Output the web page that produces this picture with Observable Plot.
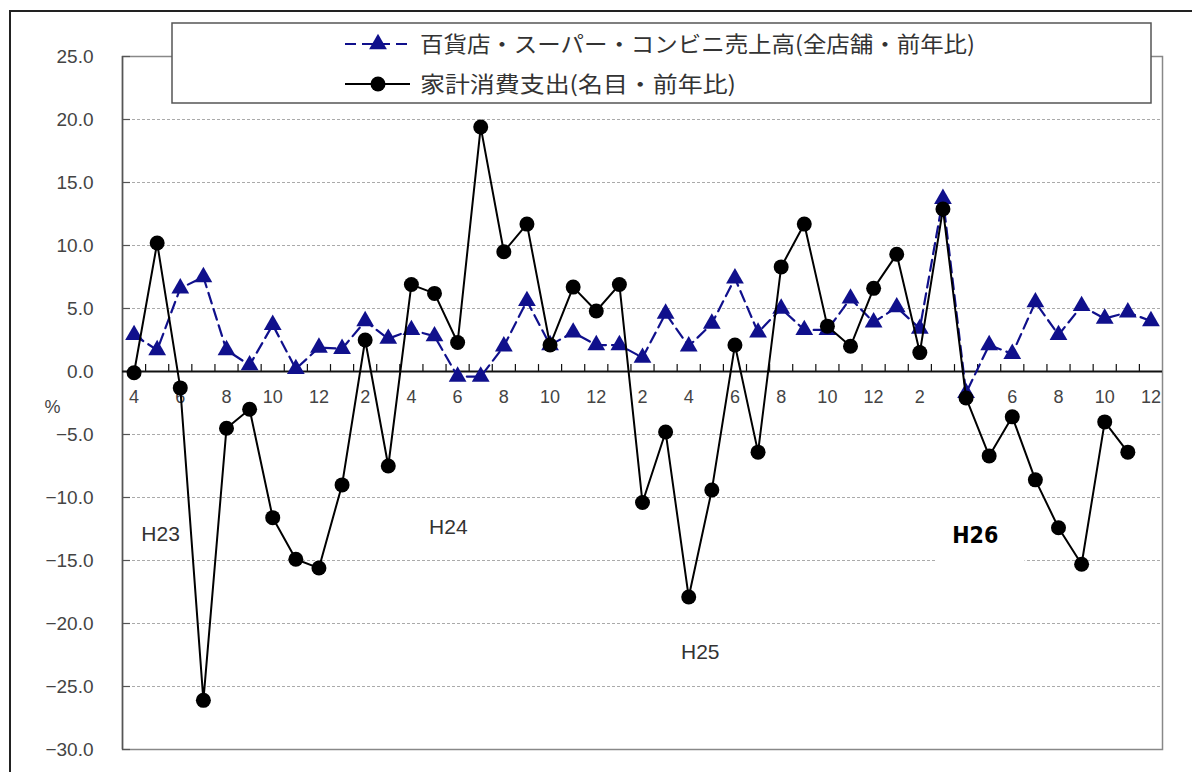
<!DOCTYPE html>
<html>
<head>
<meta charset="utf-8">
<script src="https://cdn.jsdelivr.net/npm/d3@7"></script>
<script src="https://cdn.jsdelivr.net/npm/@observablehq/plot@0.6"></script>
<style>
  html, body { margin: 0; padding: 0; background: #fff; overflow: hidden; }
  #wrap { position: relative; width: 1192px; height: 772px; }
  #outer { position: absolute; left: 9px; top: 10px; width: 1200px; height: 800px;
           border-left: 2px solid #222; border-top: 2px solid #222; pointer-events: none; }
  #legend { position: absolute; left: 0; top: 0; }
</style>
</head>
<body>
<div id="wrap"><div id="outer"></div></div>
<script>
// ---- data ----
const months = [4,5,6,7,8,9,10,11,12,
                1,2,3,4,5,6,7,8,9,10,11,12,
                1,2,3,4,5,6,7,8,9,10,11,12,
                1,2,3,4,5,6,7,8,9,10,11,12];
const storeSales = [2.9,1.7,6.6,7.5,1.7,0.5,3.7,0.2,1.9,
                    1.8,4.0,2.6,3.3,2.8,-0.4,-0.4,2.0,5.6,2.1,3.1,2.1,
                    2.1,1.1,4.6,2.0,3.8,7.4,3.1,5.0,3.3,3.3,5.8,3.9,
                    5.1,3.4,13.7,-1.7,2.1,1.4,5.5,2.9,5.2,4.2,4.7,4.0];
const householdSpending = [-0.1,10.2,-1.3,-26.1,-4.5,-3.0,-11.6,-14.9,-15.6,
                           -9.0,2.5,-7.5,6.9,6.2,2.3,19.4,9.5,11.7,2.1,6.7,4.8,
                           6.9,-10.4,-4.8,-17.9,-9.4,2.1,-6.4,8.3,11.7,3.6,2.0,6.6,
                           9.3,1.5,12.9,-2.1,-6.7,-3.6,-8.6,-12.4,-15.3,-4.0,-6.4];
const yTicks = [25,20,15,10,5,0,-5,-10,-15,-20,-25,-30];
const gridValues = [20,15,10,5,-5,-10,-15,-20,-25];
const seriesNames = ["百貨店・スーパー・コンビニ売上高(全店舗・前年比)", "家計消費支出(名目・前年比)"];
const eraLabels = ["H23","H24","H25","H26"];
const eraAt = [{i:1.15, v:-12.9}, {i:13.6, v:-12.4}, {i:24.5, v:-22.3}, {i:36.4, v:-13.0}];
const yUnit = "%";

// ---- build ----
const blue = "#10108c";
const sales = storeSales.map((v, i) => ({i, v}));
const spend = householdSpending.map((v, i) => ({i, v}));
const monthIdx = months.map((m, i) => ({i, m}));
const labeled = monthIdx.filter(d => d.m % 2 === 0);
const between = d3.range(0, months.length - 1).map(i => i + 0.5);
const eras = eraLabels.map((t, k) => ({t, ...eraAt[k]}));
const fmt = d3.format(".1f");
const pxPerCat = (1162 - 122) / months.length;

const chart = Plot.plot({
  width: 1192, height: 772,
  marginLeft: 122, marginRight: 30, marginTop: 56, marginBottom: 23,
  x: {type: "linear", domain: [-0.5, months.length - 0.5], axis: null},
  y: {domain: [-30, 25], axis: null},
  style: {fontFamily: "'Liberation Sans', Arial, sans-serif", background: "transparent"},
  marks: [
    Plot.ruleY(gridValues, {stroke: "#aaa", strokeDasharray: "3,2", strokeWidth: 1}),
    Plot.frame({stroke: "#888", strokeWidth: 1.5}),
    Plot.ruleX([-0.5], {stroke: "#555", strokeWidth: 1.5}),
    Plot.ruleY(yTicks, {x1: -0.5, x2: -0.5 + 8 / pxPerCat, stroke: "#555", strokeWidth: 1.2}),
    Plot.text(yTicks, {x: -0.5, y: d => d, text: d => fmt(d), textAnchor: "end", dx: -29,
                       fontSize: 19, fill: "#444"}),
    Plot.text([yUnit], {x: -0.5, y: 0, text: d => d, textAnchor: "start", dx: -78, dy: 36,
                        fontSize: 18, fill: "#444"}),
    Plot.rect([eras[3]], {x1: d => d.i - 1.65, x2: d => d.i + 2.15, y1: -11.4, y2: -15.8, fill: "#fff"}),
    Plot.text(eras.slice(0, 3), {x: "i", y: "v", text: "t", fontSize: 21, fill: "#333"}),
    Plot.text(eras.slice(3), {x: "i", y: "v", text: "t", fontSize: 23, fontWeight: "bold", fill: "#000",
                              fontFamily: "'Liberation Sans Narrow', 'DejaVu Sans Condensed', sans-serif"}),
    Plot.ruleY([0], {stroke: "#111", strokeWidth: 2}),
    Plot.ruleX(between, {y1: 0, y2: 0.55, stroke: "#111", strokeWidth: 1.2}),
    Plot.text(labeled, {x: "i", y: 0, text: d => String(d.m), dy: 26, fontSize: 18, fill: "#444"}),
    Plot.line(sales, {x: "i", y: "v", stroke: blue, strokeWidth: 2.2, strokeDasharray: "11,6"}),
    Plot.dot(sales, {x: "i", y: "v", symbol: "triangle", r: 6.6, fill: blue, stroke: "none"}),
    Plot.line(spend, {x: "i", y: "v", stroke: "#000", strokeWidth: 2}),
    Plot.dot(spend, {x: "i", y: "v", r: 7.5, fill: "#000", stroke: "none"})
  ]
});
document.getElementById("wrap").appendChild(chart);

// ---- legend (overlay) ----
const lg = d3.select("#wrap").append("svg").attr("id", "legend")
  .attr("width", 1192).attr("height", 120);
lg.append("rect").attr("x", 172).attr("y", 23).attr("width", 979).attr("height", 80)
  .attr("fill", "#fff").attr("stroke", "#555").attr("stroke-width", 1.5);
const rows = [
  {y: 44, name: seriesNames[0], color: blue, dash: "11,6", sym: d3.symbolTriangle, w: 555},
  {y: 84, name: seriesNames[1], color: "#000", dash: null, sym: d3.symbolCircle, w: 316}
];
rows.forEach(r => {
  lg.append("line").attr("x1", 345).attr("x2", 410).attr("y1", r.y).attr("y2", r.y)
    .attr("stroke", r.color).attr("stroke-width", 2.2).attr("stroke-dasharray", r.dash);
  lg.append("path").attr("d", d3.symbol(r.sym, Math.PI * (r.sym === d3.symbolCircle ? 7.5 * 7.5 : 6.6 * 6.6))())
    .attr("transform", `translate(378,${r.y})`).attr("fill", r.color);
  lg.append("text").attr("x", 420).attr("y", r.y).attr("dy", "0.36em")
    .attr("font-family", "'Noto Sans CJK JP', sans-serif").attr("font-size", 22)
    .attr("fill", "#333").attr("textLength", r.w).attr("lengthAdjust", "spacingAndGlyphs")
    .text(r.name);
});
</script>
</body>
</html>
